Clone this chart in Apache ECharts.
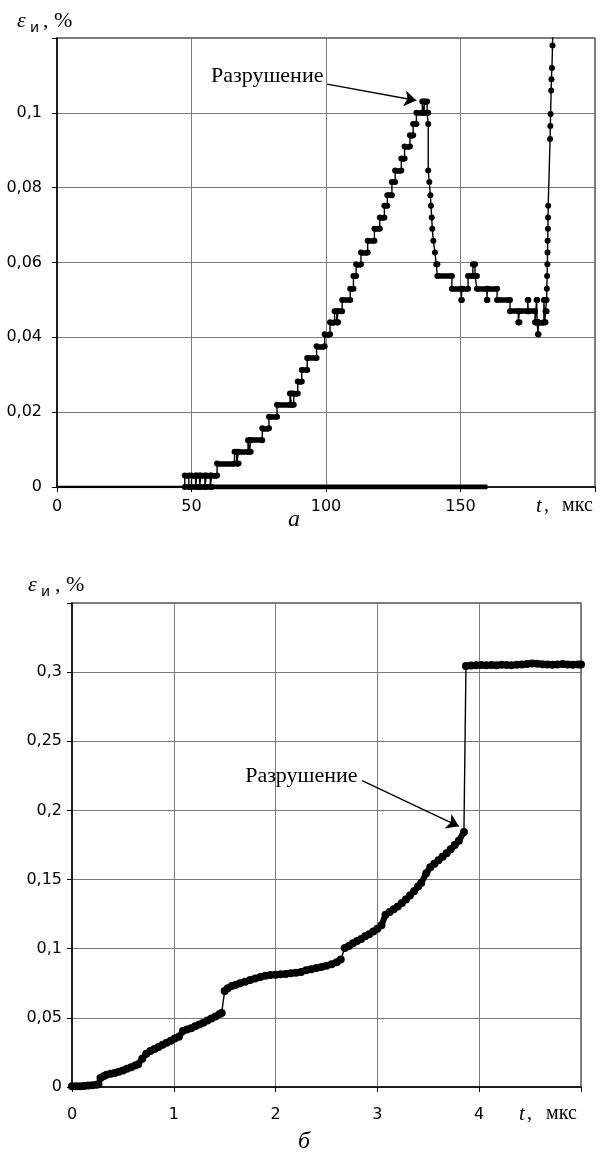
<!DOCTYPE html>
<html><head><meta charset="utf-8">
<script src="https://cdn.jsdelivr.net/npm/echarts/dist/echarts.min.js"></script>
<style>html,body{margin:0;padding:0;background:#fff}#c{width:600px;height:1160px}</style>
</head><body><div id="c"></div>
<script>
// ---------- Chart "а": strain εи (%) vs t (мкс) ----------
const aZeroThin = [[0,0],[47.5,0]];
const aZeroThick = [[47.5,0],[160,0]];
const aNoise = [[47.5,0],[47.5,0.0031],[49,0.0031],[49,0],[50,0],[50,0.0031],[51.5,0.0031],[51.5,0],[52,0],[52,0.0031],[53,0.0031],[53,0],[53.5,0],[53.5,0.0031],[55,0.0031],[55,0],[55.5,0],[55.5,0.0031],[57,0.0031],[57,0],[57.5,0],[57.5,0.0031],[59.5,0.0031]];
const aRise = [[59.5,0.0063],[66,0.0063],[66,0.0094],[66.8,0.0094],[66.8,0.0063],[67.5,0.0063],[67.5,0.0094],[71,0.0094],[71,0.0125],[71.6,0.0125],[71.6,0.0094],[72,0.0094],[72,0.0125],[76.3,0.0125],[76.3,0.0157],[78.8,0.0157],[78.8,0.0188],[81.8,0.0188],[81.8,0.022],[86.6,0.022],[86.6,0.025],[87.2,0.025],[87.2,0.022],[88,0.022],[88,0.025],[89.5,0.025],[89.5,0.0282],[91,0.0282],[91,0.0313],[93,0.0313],[93,0.0345],[96.5,0.0345],[96.5,0.0376],[99.5,0.0376],[99.5,0.0408],[101.5,0.0408],[101.5,0.044],[103.2,0.044],[103.2,0.047],[104,0.047],[104,0.044],[104.5,0.044],[104.5,0.047],[106,0.047],[106,0.05],[109,0.05],[109,0.053],[110.2,0.053],[110.2,0.0564],[111.2,0.0564],[111.2,0.0595],[113,0.0595],[113,0.0627],[115.5,0.0627],[115.5,0.0658],[118,0.0658],[118,0.069],[120,0.069],[120,0.072],[121.7,0.072],[121.7,0.0752],[122.8,0.0752],[122.8,0.078],[124.5,0.078],[124.5,0.0815],[125.7,0.0815],[125.7,0.0846],[128,0.0846],[128,0.0878],[129.2,0.0878],[129.2,0.091],[131.2,0.091],[131.2,0.094],[132.4,0.094],[132.4,0.097],[133.6,0.097],[133.6,0.1],[135.8,0.1],[135.8,0.103],[136.3,0.103],[136.3,0.1],[136.8,0.1],[136.8,0.103],[137.6,0.103],[137.6,0.1],[138,0.1]];
const aDrop = [[138,0.097],[138,0.0846],[138.4,0.0815],[138.8,0.078],[139,0.0752],[139.3,0.072],[139.5,0.069],[139.9,0.0658],[140.5,0.0627],[141,0.0595],[141.4,0.0595],[141.4,0.0564],[146.8,0.0564],[146.8,0.053],[150.3,0.053],[150.3,0.05],[150.5,0.05],[150.5,0.053],[152.8,0.053],[152.8,0.0564],[154.6,0.0564],[154.6,0.0595],[155.4,0.0595],[155.4,0.0564],[156.1,0.0564],[156.1,0.053],[159.8,0.053],[159.8,0.05],[160,0.05],[160,0.053],[163.6,0.053],[163.6,0.05],[168.4,0.05],[168.4,0.047],[171.5,0.047],[171.5,0.044],[171.9,0.044],[171.9,0.047],[175,0.047],[175,0.05],[175.2,0.05],[175.2,0.047],[177.7,0.047],[177.7,0.044],[178.3,0.044],[178.3,0.05],[178.5,0.05],[178.5,0.044],[178.8,0.044],[178.8,0.0408],[179,0.0408],[179,0.044],[181,0.044],[181,0.05],[181.3,0.05],[181.3,0.044],[181.6,0.044],[181.6,0.047],[182,0.047]];
const aSpike = [[182,0.05],[182.1,0.053],[182.2,0.0564],[182.3,0.0595],[182.35,0.0627],[182.4,0.0658],[182.5,0.069],[182.55,0.072],[182.6,0.0752],[183.3,0.093],[183.4,0.0965],[183.5,0.0997],[183.7,0.106],[183.8,0.109],[184,0.112],[184.2,0.118],[184.5,0.13]];
const aTicksX = [0, 50, 100, 150];
const aAnnot = { text: [99.6, 0.1098], from: [100.4, 0.1077], to: [133.6, 0.1033] };

// ---------- Chart "б" ----------
const bSeg0 = [[0,0.0005],[0.04,0.0005],[0.08,0.0006],[0.12,0.0008],[0.16,0.001],[0.2,0.0012],[0.24,0.0016],[0.26,0.002]];
const bSeg1 = [[0.28,0.0065],[0.31,0.0078],[0.34,0.0088],[0.38,0.0095],[0.42,0.0102],[0.46,0.011],[0.5,0.012],[0.54,0.0132],[0.58,0.0143],[0.62,0.0155],[0.65,0.0165],[0.69,0.0205],[0.73,0.024],[0.77,0.026],[0.81,0.0275],[0.85,0.029],[0.89,0.0305],[0.93,0.032],[0.97,0.0335],[1.01,0.035],[1.05,0.0363],[1.09,0.0405],[1.13,0.0415],[1.17,0.0425],[1.21,0.044],[1.25,0.0452],[1.29,0.0465],[1.33,0.048],[1.37,0.0495],[1.41,0.051],[1.45,0.0528],[1.47,0.0535]];
const bSeg2 = [[1.5,0.0695],[1.53,0.0715],[1.57,0.073],[1.61,0.074],[1.65,0.075],[1.7,0.0762],[1.75,0.0774],[1.8,0.0785],[1.85,0.0795],[1.9,0.0805],[1.95,0.081],[2,0.0812],[2.05,0.0815],[2.1,0.0818],[2.15,0.0822],[2.2,0.0826],[2.25,0.0832],[2.3,0.0845],[2.35,0.0852],[2.4,0.086],[2.45,0.0868],[2.5,0.0876],[2.55,0.0888],[2.6,0.0903],[2.64,0.0922]];
const bSeg3 = [[2.68,0.1005],[2.72,0.102],[2.76,0.104],[2.8,0.1055],[2.84,0.107],[2.88,0.109],[2.92,0.1105],[2.96,0.1125],[3,0.1145],[3.04,0.117],[3.08,0.1245],[3.12,0.1265],[3.16,0.1285],[3.2,0.1305],[3.24,0.133],[3.28,0.1355],[3.32,0.1385],[3.36,0.1415],[3.4,0.145],[3.43,0.1475],[3.48,0.1545],[3.52,0.159],[3.56,0.1615],[3.6,0.164],[3.64,0.1665],[3.68,0.169],[3.72,0.172],[3.76,0.175],[3.8,0.178],[3.85,0.1844]];
const bSeg4 = [[3.87,0.3045],[3.92,0.3048],[3.97,0.305],[4.02,0.3052],[4.07,0.305],[4.12,0.3052],[4.17,0.305],[4.22,0.3053],[4.27,0.3052],[4.32,0.305],[4.37,0.3053],[4.42,0.3055],[4.47,0.3058],[4.52,0.3062],[4.57,0.306],[4.62,0.3057],[4.67,0.3055],[4.72,0.3053],[4.77,0.3055],[4.82,0.3058],[4.87,0.3055],[4.92,0.3053],[4.97,0.3055],[5,0.3055]];
const bTicksX = [0, 1, 2, 3, 4];
const bAnnot = { text: [2.82, 0.225], from: [2.85, 0.2215], to: [3.8, 0.1885] };

// ---------- helpers ----------
const aTrace = [].concat(aNoise, aRise, aDrop, aSpike);
function plateaus(pts) {
  const segs = [];
  for (let i = 0; i < pts.length - 1; i++) {
    if (pts[i][1] === pts[i + 1][1] && pts[i + 1][0] > pts[i][0]) segs.push({ coords: [pts[i], pts[i + 1]] });
  }
  return segs;
}
const bSegs = [bSeg0, bSeg1, bSeg2, bSeg3, bSeg4];
const bTrace = [].concat(...bSegs);

const SANS = '"DejaVu Sans", "Liberation Sans", Arial, sans-serif';
const SERIF = '"Liberation Serif", "Times New Roman", serif';
const fmtDec = (max) => (v) => (v >= max - 1e-9 ? '' : String(+v.toFixed(3)).replace('.', ','));

function xAx(gi, max, interval, margin, ticks) {
  return {
    type: 'value', gridIndex: gi, min: 0, max: max, interval: interval,
    axisLine: { show: true, onZero: false, lineStyle: { color: '#000', width: 1.5 } },
    axisTick: { show: true, inside: false, length: 5, lineStyle: { color: '#000', width: 1 } },
    axisLabel: { show: true, margin: margin, color: '#000', fontFamily: SANS, fontSize: 16,
      formatter: (v) => (ticks.indexOf(v) >= 0 ? String(v) : '') },
    splitLine: { show: true, lineStyle: { color: '#7a7a7a', width: 1 } }
  };
}
function yAx(gi, max, interval, margin) {
  return {
    type: 'value', gridIndex: gi, min: 0, max: max, interval: interval,
    axisLine: { show: true, onZero: false, lineStyle: { color: '#000', width: 1.5 } },
    axisTick: { show: true, inside: false, length: 5, lineStyle: { color: '#000', width: 1 } },
    axisLabel: { show: true, margin: margin, color: '#000', fontFamily: SANS, fontSize: 16, formatter: fmtDec(max) },
    splitLine: { show: true, lineStyle: { color: '#7a7a7a', width: 1 } }
  };
}
function annot(a) {
  return {
    markLine: {
      silent: true, animation: false, symbol: ['none', 'arrow'], symbolSize: 12,
      lineStyle: { color: '#000', width: 1.3, type: 'solid' }, label: { show: false },
      emphasis: { disabled: true },
      data: [[{ coord: a.from }, { coord: a.to }]]
    },
    markPoint: {
      silent: true, animation: false, symbol: 'circle', symbolSize: 1,
      itemStyle: { color: 'rgba(0,0,0,0)' },
      label: { show: true, position: 'left', distance: 1, formatter: 'Разрушение', color: '#000', fontFamily: SERIF, fontSize: 22 },
      data: [{ coord: a.text }]
    }
  };
}
function txt(x, y, s, font) {
  return { type: 'text', x: x, y: y, silent: true,
    style: { text: s, font: font, fill: '#000', textAlign: 'left', align: 'left', textVerticalAlign: 'middle', verticalAlign: 'middle' } };
}

const option = {
  animation: false,
  backgroundColor: '#fff',
  grid: [
    { left: 57, right: 5, top: 38, height: 449, show: true, borderColor: '#555', borderWidth: 1.5, backgroundColor: '#fff' },
    { left: 72, right: 19, top: 603, height: 484, show: true, borderColor: '#555', borderWidth: 1.5, backgroundColor: '#fff' }
  ],
  xAxis: [xAx(0, 200, 50, 12, aTicksX), xAx(1, 5, 1, 20, bTicksX)],
  yAxis: [yAx(0, 0.12, 0.02, 15), yAx(1, 0.35, 0.05, 10)],
  series: [
    { type: 'line', xAxisIndex: 0, yAxisIndex: 0, data: aZeroThin, showSymbol: false, lineStyle: { color: '#000', width: 2.5 }, z: 3 },
    { type: 'line', xAxisIndex: 0, yAxisIndex: 0, data: aZeroThick, showSymbol: false, lineStyle: { color: '#000', width: 5 }, z: 3 },
    { type: 'lines', coordinateSystem: 'cartesian2d', xAxisIndex: 0, yAxisIndex: 0, polyline: false, silent: true,
      data: plateaus(aTrace), lineStyle: { color: '#000', width: 5.5, opacity: 1 }, z: 4 },
    Object.assign({ type: 'line', xAxisIndex: 0, yAxisIndex: 0, data: aTrace, symbol: 'circle', symbolSize: 6,
      showSymbol: true, showAllSymbol: true, itemStyle: { color: '#000' }, lineStyle: { color: '#000', width: 1.4 }, z: 5 }, annot(aAnnot)),
    { type: 'lines', coordinateSystem: 'cartesian2d', xAxisIndex: 1, yAxisIndex: 1, polyline: true, silent: true,
      data: bSegs.map((s) => ({ coords: s })), lineStyle: { color: '#000', width: 6, opacity: 1 }, z: 4 },
    Object.assign({ type: 'line', xAxisIndex: 1, yAxisIndex: 1, data: bTrace, symbol: 'circle', symbolSize: 8,
      showSymbol: true, showAllSymbol: true, itemStyle: { color: '#000' }, lineStyle: { color: '#000', width: 1.4 }, z: 5 }, annot(bAnnot))
  ],
  graphic: [
    txt(17, 21, 'ε', 'italic 22px ' + SERIF),
    txt(30, 28, 'и', '14px ' + SANS),
    txt(43, 21, ', %', '22px ' + SERIF),
    txt(28, 585, 'ε', 'italic 22px ' + SERIF),
    txt(41, 592, 'и', '14px ' + SANS),
    txt(55, 585, ', %', '22px ' + SERIF),
    txt(536, 506, 't', 'italic 21px ' + SERIF),
    txt(544, 506, ',', '20px ' + SERIF),
    txt(562, 506, 'мкс', '20px ' + SERIF),
    txt(519, 1114, 't', 'italic 21px ' + SERIF),
    txt(527, 1114, ',', '20px ' + SERIF),
    txt(546, 1114, 'мкс', '20px ' + SERIF),
    txt(288, 520, 'а', 'italic 24px ' + SERIF),
    txt(298, 1142, 'б', 'italic 24px ' + SERIF)
  ]
};
const chart = echarts.init(document.getElementById('c'));
chart.setOption(option);
</script></body></html>
